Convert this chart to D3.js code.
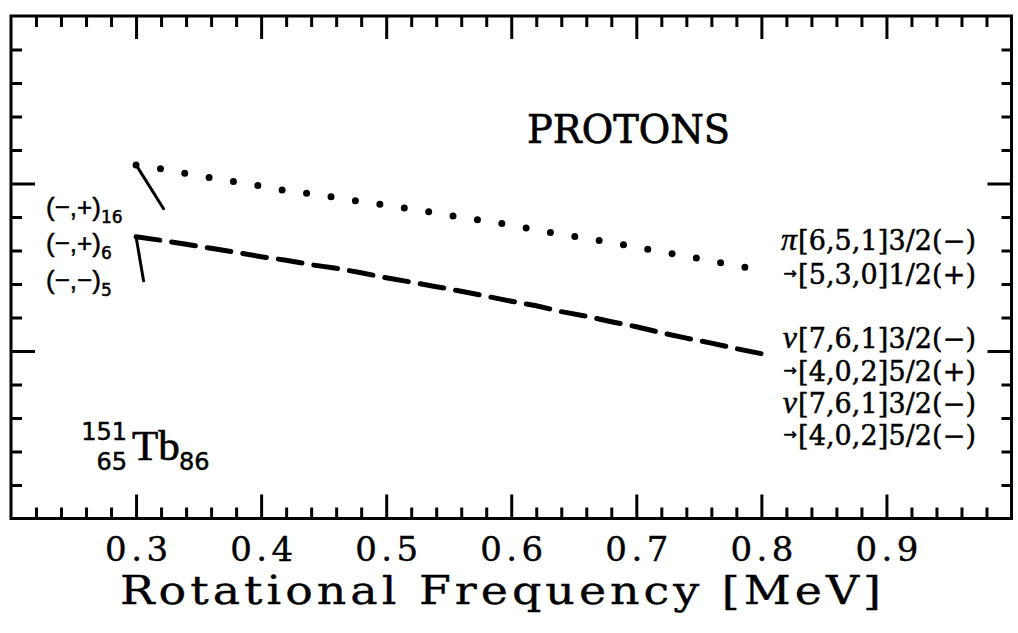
<!DOCTYPE html>
<html>
<head>
<meta charset="utf-8">
<script src="https://cdn.jsdelivr.net/npm/d3@7"></script>
<style>
  body { margin: 0; background: #fff; }
  svg { display: block; }
</style>
</head>
<body>
<svg id="chart" width="1018" height="633"></svg>
<script>
// Rotational frequency grid (MeV) shared by both calculated curves
const freq = [0.30, 0.32, 0.34, 0.36, 0.38, 0.40, 0.42, 0.44, 0.46, 0.48,
              0.50, 0.52, 0.54, 0.56, 0.58, 0.60, 0.62, 0.64, 0.66, 0.68,
              0.70, 0.72, 0.74, 0.76, 0.78, 0.80];

// pi[6,5,1]3/2(-) -> [5,3,0]1/2(+) crossing (dotted)
const protonCurve = [2.111, 2.088, 2.059, 2.034, 2.009, 1.985, 1.956, 1.938, 1.916, 1.891,
                     1.871, 1.848, 1.824, 1.798, 1.776, 1.753, 1.722, 1.697, 1.673, 1.648,
                     1.621, 1.592, 1.567, 1.537, 1.509, 1.482];

// nu[7,6,1]3/2(-) -> [4,0,2]5/2 crossing (dashed)
const neutronCurve = [1.682, 1.661, 1.637, 1.613, 1.589, 1.563, 1.542, 1.515, 1.494, 1.467,
                      1.437, 1.411, 1.384, 1.357, 1.327, 1.297, 1.270, 1.235, 1.208, 1.175,
                      1.145, 1.109, 1.077, 1.047, 1.014, 0.984];

// short band branches leaving the crossing start points
const branch16 = [[0.300, 2.111], [0.322, 1.849]];
const branch5  = [[0.300, 1.682], [0.306, 1.419]];

// axis ticks
const xTickValues = [0.3, 0.4, 0.5, 0.6, 0.7, 0.8, 0.9];
const xTickLabels = ["0.3", "0.4", "0.5", "0.6", "0.7", "0.8", "0.9"];
const yMajorValues = [1, 2];

// band labels (signature, parity)_index
const bandMain = ["(\u2212,+)", "(\u2212,+)", "(\u2212,\u2212)"];
const bandSub  = ["16", "6", "5"];

// configuration labels on the right
const configPrefix = ["\u03C0", "\u2192", "\u03BD", "\u2192", "\u03BD", "\u2192"];
const configBody = ["[6,5,1]3/2(\u2212)", "[5,3,0]1/2(+)",
                    "[7,6,1]3/2(\u2212)", "[4,0,2]5/2(+)",
                    "[7,6,1]3/2(\u2212)", "[4,0,2]5/2(\u2212)"];

const svg = d3.select("#chart");
const plotLeft = 11, plotRight = 1011.5, plotTop = 16, plotBottom = 518.5;

const x = d3.scaleLinear().domain([0.2, 1.0]).range([plotLeft, plotRight]);
const y = d3.scaleLinear().domain([0, 3]).range([plotBottom, plotTop]);

const xMinor = d3.range(0.22, 0.99, 0.02).map(v => +v.toFixed(2))
  .filter(v => Math.abs(v * 10 - Math.round(v * 10)) > 1e-6);
const yMinor = d3.range(0.2, 2.9, 0.2).map(v => +v.toFixed(1))
  .filter(v => Math.abs(v - Math.round(v)) > 1e-6);

const slab = "'DejaVu Serif', serif";
const times = "'Liberation Serif', 'Times New Roman', serif";
const sans = "'Liberation Sans', Arial, sans-serif";
const round = "'DejaVu Sans', sans-serif";

// a thin outline thickens the glyphs a little
function heavy(sel, w) {
  return sel.attr("fill", "#000").attr("stroke", "#000").attr("stroke-width", w);
}

function styleAxis(g) {
  g.select(".domain").remove();
  g.selectAll(".tick line").attr("stroke", "#000").attr("stroke-width", 3);
}

// bottom axis: labelled majors + minors, ticks point inward
svg.append("g").attr("transform", `translate(0,${plotBottom})`)
  .call(d3.axisBottom(x).tickValues(xTickValues)
    .tickFormat((d, i) => xTickLabels[i]).tickSize(-24).tickPadding(18))
  .call(styleAxis)
  .call(g => heavy(g.selectAll(".tick text"), 0.4)
    .attr("font-family", slab).attr("font-size", 34)
    .attr("textLength", 63).attr("lengthAdjust", "spacing"));
svg.append("g").attr("transform", `translate(0,${plotBottom})`)
  .call(d3.axisBottom(x).tickValues(xMinor).tickFormat("").tickSize(-11))
  .call(styleAxis);

// top axis
svg.append("g").attr("transform", `translate(0,${plotTop})`)
  .call(d3.axisTop(x).tickValues(xTickValues).tickFormat("").tickSize(-23))
  .call(styleAxis);
svg.append("g").attr("transform", `translate(0,${plotTop})`)
  .call(d3.axisTop(x).tickValues(xMinor).tickFormat("").tickSize(-11))
  .call(styleAxis);

// left and right axes (unlabelled)
svg.append("g").attr("transform", `translate(${plotLeft},0)`)
  .call(d3.axisLeft(y).tickValues(yMajorValues).tickFormat("").tickSize(-24))
  .call(styleAxis);
svg.append("g").attr("transform", `translate(${plotLeft},0)`)
  .call(d3.axisLeft(y).tickValues(yMinor).tickFormat("").tickSize(-11))
  .call(styleAxis);
svg.append("g").attr("transform", `translate(${plotRight},0)`)
  .call(d3.axisRight(y).tickValues(yMajorValues).tickFormat("").tickSize(-24))
  .call(styleAxis);
svg.append("g").attr("transform", `translate(${plotRight},0)`)
  .call(d3.axisRight(y).tickValues(yMinor).tickFormat("").tickSize(-10))
  .call(styleAxis);

// frame
svg.append("rect")
  .attr("x", plotLeft).attr("y", plotTop)
  .attr("width", plotRight - plotLeft).attr("height", plotBottom - plotTop)
  .attr("fill", "none").attr("stroke", "#000").attr("stroke-width", 3);

// curves
const line = d3.line().x(d => x(d[0])).y(d => y(d[1]));
const protonPts = freq.map((f, i) => [f, protonCurve[i]]);
const neutronPts = freq.map((f, i) => [f, neutronCurve[i]]);

svg.append("path").datum(protonPts).attr("d", line)
  .attr("fill", "none").attr("stroke", "#000")
  .attr("stroke-width", 7).attr("stroke-linecap", "round")
  .attr("stroke-dasharray", "0 24.7");

svg.append("path").datum(neutronPts).attr("d", line)
  .attr("fill", "none").attr("stroke", "#000")
  .attr("stroke-width", 5).attr("stroke-linecap", "round")
  .attr("stroke-dasharray", "24 12");

[branch16, branch5].forEach(b => {
  svg.append("path").datum(b).attr("d", line)
    .attr("fill", "none").attr("stroke", "#000")
    .attr("stroke-width", 3).attr("stroke-linecap", "round");
});

// band labels
const bandY = [216, 252, 289];
bandMain.forEach((t, i) => {
  const txt = heavy(svg.append("text"), 0.5).attr("x", 46).attr("y", bandY[i])
    .attr("font-family", sans).attr("font-size", 26);
  txt.append("tspan").text(t);
  txt.append("tspan").attr("dy", 7).attr("font-family", round)
    .attr("font-size", 17).text(bandSub[i]);
});

// configuration labels
const configY = [250, 284, 348, 381, 413, 445];
configBody.forEach((t, i) => {
  const arrow = configPrefix[i] === "\u2192";
  heavy(svg.append("text"), 0.5).attr("x", 797).attr("y", configY[i] - (arrow ? 5 : 0))
    .attr("text-anchor", "end")
    .attr("font-family", arrow ? round : times)
    .attr("font-style", arrow ? "normal" : "italic")
    .attr("font-size", arrow ? 16 : 32)
    .text(configPrefix[i]);
  heavy(svg.append("text"), 0.5).attr("x", 798).attr("y", configY[i])
    .attr("font-family", slab).attr("font-size", 27)
    .attr("textLength", 178).attr("lengthAdjust", "spacing")
    .text(t);
});

// title in the plot
heavy(svg.append("text"), 0.7).attr("x", 527).attr("y", 143)
  .attr("font-family", slab).attr("font-size", 40)
  .attr("textLength", 203).attr("lengthAdjust", "spacingAndGlyphs")
  .text("PROTONS");

// nucleus label
heavy(svg.append("text"), 0.5).attr("x", 127).attr("y", 440).attr("text-anchor", "end")
  .attr("font-family", round).attr("font-size", 24).text("151");
heavy(svg.append("text"), 0.5).attr("x", 127).attr("y", 470).attr("text-anchor", "end")
  .attr("font-family", round).attr("font-size", 24).text("65");
heavy(svg.append("text"), 0.7).attr("x", 132).attr("y", 460)
  .attr("font-family", times).attr("font-size", 43).text("Tb");
heavy(svg.append("text"), 0.5).attr("x", 179).attr("y", 470)
  .attr("font-family", round).attr("font-size", 24).text("86");

// x-axis title
heavy(svg.append("text"), 0.35).attr("x", 120).attr("y", 604)
  .attr("font-family", slab).attr("font-size", 40).attr("letter-spacing", 3.5)
  .attr("textLength", 765).attr("lengthAdjust", "spacingAndGlyphs")
  .text("Rotational Frequency [MeV]");
</script>
</body>
</html>
